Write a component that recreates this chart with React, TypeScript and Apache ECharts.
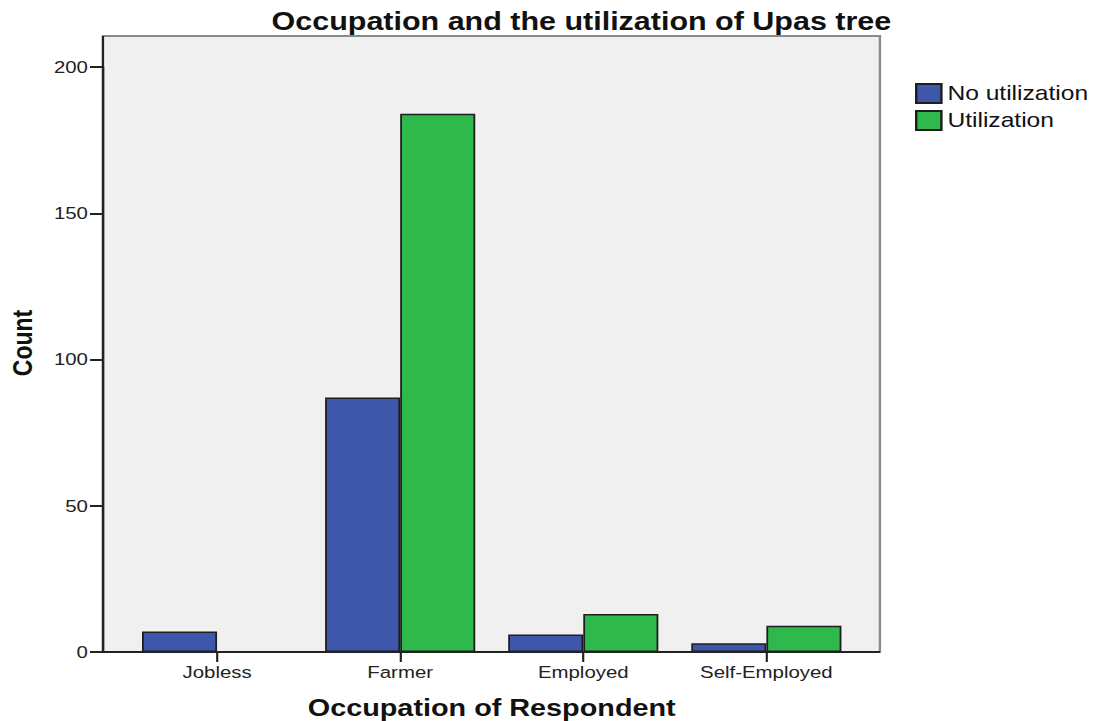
import React, { useEffect, useRef } from "react";
import * as echarts from "echarts";

const categories = ["Jobless", "Farmer", "Employed", "Self-Employed"];
const noUtilization = [7, 87, 6, 3];
const utilization = [0, 184, 13, 9];
const seriesNames = ["No utilization", "Utilization"];
const yTicks = { min: 0, max: 200, interval: 50 };

// The reference is horizontally stretched; draw at a narrower width and stretch.
const STRETCH = 1.2;
const W = 1094 / STRETCH;
const H = 721;

export default function App() {
  const ref = useRef<HTMLDivElement>(null);
  useEffect(() => {
    const chart = echarts.init(ref.current!, null, { renderer: "svg" });
    const boxL = 85.8, boxR = 733.3, boxT = 36, boxB = 652;
    const gridL = 104.6, gridR = 714.6;
    chart.setOption({
      animation: false,
      backgroundColor: "#ffffff",
      title: {
        text: "Occupation and the utilization of Upas tree",
        left: 479.5,
        textAlign: "center",
        top: 4,
        textStyle: { fontFamily: "Liberation Sans", fontWeight: "bold", fontSize: 25.4, color: "#111" },
      },
      legend: {
        orient: "vertical",
        left: 762.5,
        top: 83,
        padding: 0,
        itemWidth: 21,
        itemHeight: 19,
        itemGap: 6,
        icon: "rect",
        textStyle: { fontFamily: "Liberation Sans", fontSize: 20.5, color: "#111" },
        data: seriesNames,
      },
      graphic: [
        {
          type: "rect",
          z: -10,
          shape: { x: boxL, y: boxT, width: boxR - boxL, height: boxB - boxT },
          style: { fill: "#f0f0f0", stroke: "#8a8a8a", lineWidth: 2 },
        },
        {
          type: "line",
          z: 10,
          shape: { x1: boxL, y1: boxT, x2: boxL, y2: boxB },
          style: { stroke: "#222", lineWidth: 1.8 },
        },
        {
          type: "line",
          z: 10,
          shape: { x1: boxL, y1: boxB, x2: boxR, y2: boxB },
          style: { stroke: "#222", lineWidth: 2 },
        },
        {
          type: "text",
          x: 18.5,
          y: 343,
          rotation: Math.PI / 2,
          style: {
            text: "Count",
            fontFamily: "Liberation Sans",
            fontWeight: "bold",
            fontSize: 23,
            fill: "#111",
            align: "center",
            verticalAlign: "middle",
          },
        },
      ],
      grid: {
        left: gridL,
        right: W - gridR,
        top: 67,
        bottom: H - boxB,
        containLabel: false,
        outerBoundsMode: "none",
      },
      xAxis: {
        type: "category",
        data: categories,
        axisLine: { show: false },
        axisTick: { show: true, alignWithLabel: true, length: 10, lineStyle: { color: "#222", width: 1.8 } },
        axisLabel: { fontFamily: "Liberation Sans", fontSize: 17, color: "#222", margin: 12 },
        name: "Occupation of Respondent",
        nameLocation: "middle",
        nameGap: 44,
        nameTextStyle: { fontFamily: "Liberation Sans", fontWeight: "bold", fontSize: 24, color: "#111" },
      },
      yAxis: {
        type: "value",
        min: yTicks.min,
        max: yTicks.max,
        interval: yTicks.interval,
        offset: gridL - boxL,
        axisLine: { show: true, lineStyle: { color: "#222", width: 1.8 } },
        axisTick: { show: true, length: 10.8, lineStyle: { color: "#222", width: 2 } },
        axisLabel: { fontFamily: "Liberation Sans", fontSize: 17, color: "#222", margin: 12.5 },
        splitLine: { show: false },
      },
      series: [
        {
          name: seriesNames[0],
          type: "bar",
          data: noUtilization,
          barGap: "0%",
          barCategoryGap: "18%",
          itemStyle: { color: "#3e57aa", borderColor: "#1e1e1e", borderWidth: 1.5 },
        },
        {
          name: seriesNames[1],
          type: "bar",
          data: utilization,
          itemStyle: { color: "#2fb84b", borderColor: "#1e1e1e", borderWidth: 1.5 },
        },
      ],
    });
    return () => chart.dispose();
  }, []);
  return (
    <div
      ref={ref}
      style={{
        position: "absolute",
        left: 0,
        top: 0,
        width: W,
        height: H,
        transform: `scaleX(${STRETCH})`,
        transformOrigin: "0 0",
      }}
    />
  );
}
